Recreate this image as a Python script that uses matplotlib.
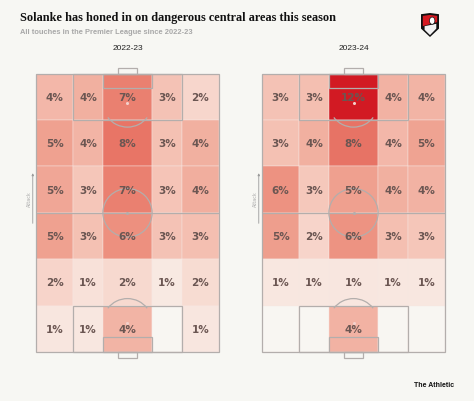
import numpy as np
import matplotlib.pyplot as plt
from matplotlib.colors import LinearSegmentedColormap
from matplotlib.patches import Rectangle, Circle, Arc, Polygon

# touch share (%) per zone, rows from attacking end (top) to own goal (bottom)
seasons = ['2022-23', '2023-24']
touches_2223 = [[3.8, 4.2, 7.2, 3.2, 2.1],
                [5.1, 4.0, 7.8, 3.3, 4.2],
                [4.8, 3.0, 7.2, 3.1, 4.3],
                [5.1, 3.3, 6.2, 3.2, 3.4],
                [2.2, 1.4, 2.0, 0.9, 1.8],
                [1.1, 1.0, 4.0, 0.0, 1.1]]
touches_2324 = [[3.2, 3.4, 12.2, 4.1, 4.0],
                [3.3, 4.2, 7.9, 3.8, 5.0],
                [6.1, 2.9, 5.2, 4.2, 4.1],
                [5.3, 2.2, 6.0, 3.4, 3.0],
                [1.0, 1.0, 1.1, 1.0, 1.0],
                [0.0, 0.0, 4.1, 0.0, 0.0]]

BG = '#f7f7f3'
LINE = '#b3aeac'
col_edges = [0, 13.84, 24.84, 43.16, 54.16, 68]
row_edges = np.linspace(105, 0, 7)

VMAX = 12.5
anchors = [(0, '#f8f6f2'), (1, '#f8e7e0'), (2, '#f7d8ce'), (3, '#f5c6b9'),
           (4, '#f2b3a4'), (5, '#efa392'), (6, '#ed9382'), (7.5, '#e97b6b'),
           (VMAX, '#d1141e')]
cmap = LinearSegmentedColormap.from_list('touch', [(v / VMAX, c) for v, c in anchors])


def draw_pitch(ax):
    kw = dict(fill=False, ec=LINE, lw=0.9, clip_on=False, zorder=3)
    ax.add_patch(Rectangle((0, 0), 68, 105, **kw))
    ax.plot([0, 68], [52.5, 52.5], color=LINE, lw=0.9, zorder=3)
    ax.add_patch(Circle((34, 52.5), 9.15, **kw))
    ax.plot(34, 52.5, 'o', ms=1.2, color=LINE, zorder=3)
    for y0, sgn in [(105, -1), (0, 1)]:
        ax.add_patch(Rectangle((13.84, y0), 40.32, sgn * 17.5, **kw))
        ax.add_patch(Rectangle((24.84, y0), 18.32, sgn * 5.5, **kw))
        ax.add_patch(Rectangle((30.34, y0), 7.32, -sgn * 2.3, **kw))
        spot = y0 + sgn * 11
        ax.plot(34, spot, 'o', ms=1.2, color='#f4d2cc', zorder=3)
        if sgn > 0:
            ax.add_patch(Arc((34, spot), 18.3, 18.3, theta1=37, theta2=143, **kw))
        else:
            ax.add_patch(Arc((34, spot), 18.3, 18.3, theta1=217, theta2=323, **kw))


def draw_heat(ax, vals):
    vals = np.array(vals)
    for i in range(6):
        for j in range(5):
            v = vals[i, j]
            x0, x1 = col_edges[j], col_edges[j + 1]
            y0, y1 = row_edges[i + 1], row_edges[i]
            ax.add_patch(Rectangle((x0, y0), x1 - x0, y1 - y0,
                                   fc=cmap(v / VMAX), ec='#f7e8e4', lw=0.3, zorder=1))
            if round(v) > 0:
                ax.text((x0 + x1) / 2, (y0 + y1) / 2, '{}%'.format(int(round(v))),
                        ha='center', va='center', fontsize=7.5, fontweight='bold',
                        color='#6b5652', zorder=4)


fig = plt.figure(figsize=(4.74, 4.02), dpi=100)
fig.patch.set_facecolor(BG)

for k, (season, vals) in enumerate(zip(seasons, [touches_2223, touches_2324])):
    left = [36, 262][k]
    ax = fig.add_axes([left / 474, 49 / 402, 183 / 474, 278.3 / 402])
    ax.set_xlim(0, 68)
    ax.set_ylim(0, 105)
    ax.axis('off')
    draw_heat(ax, vals)
    draw_pitch(ax)
    fig.text((left + 91.5) / 474, 1 - 48 / 402, season, ha='center', va='center',
             fontsize=6, family='Liberation Sans', color='#222222')
    # attack arrow
    ax.annotate('', xy=(-1.2, 68.5), xytext=(-1.2, 47.5), xycoords='data',
                annotation_clip=False,
                arrowprops=dict(arrowstyle='-|>', color='#9a9a9a', lw=0.6,
                                mutation_scale=3))
    ax.text(-2.6, 58, 'Attack', rotation=90, ha='center', va='center',
            fontsize=3.5, color='#aaaaaa', clip_on=False)

fig.text(20 / 474, 1 - 18 / 402, 'Solanke has honed in on dangerous central areas this season',
         ha='left', va='center', fontsize=8.8, fontweight='bold',
         family='Liberation Serif', color='#111111')
fig.text(20 / 474, 1 - 32 / 402, 'All touches in the Premier League since 2022-23',
         ha='left', va='center', fontsize=5.45, fontweight='bold',
         family='Liberation Sans', color='#a8a8a8')
fig.text(434 / 474, 1 - 386 / 402, 'The Athletic', ha='center', va='center',
         fontsize=5, fontweight='bold', family='Liberation Sans', color='#111111')

# club badge (rough shield)
bax = fig.add_axes([421 / 474, 1 - 38 / 402, 18 / 474, 24 / 402])
bax.set_xlim(0, 1)
bax.set_ylim(0, 1)
bax.axis('off')
shield = [(0, 0.95), (0.5, 1), (1, 0.95), (1, 0.35), (0.5, 0), (0, 0.35)]
bax.add_patch(Polygon(shield, closed=True, fc='#111111'))
bax.add_patch(Polygon([(0.1, 0.88), (0.5, 0.92), (0.9, 0.88), (0.9, 0.62), (0.1, 0.45)],
                      closed=True, fc='#d61a22'))
bax.add_patch(Polygon([(0.2, 0.45), (0.85, 0.55), (0.85, 0.35), (0.5, 0.08), (0.2, 0.3)],
                      closed=True, fc='#f2f2f2'))
bax.add_patch(Circle((0.62, 0.68), 0.15, fc='white', ec='#111111', lw=0.5))

fig.savefig('out.png', dpi=100, facecolor=BG)
